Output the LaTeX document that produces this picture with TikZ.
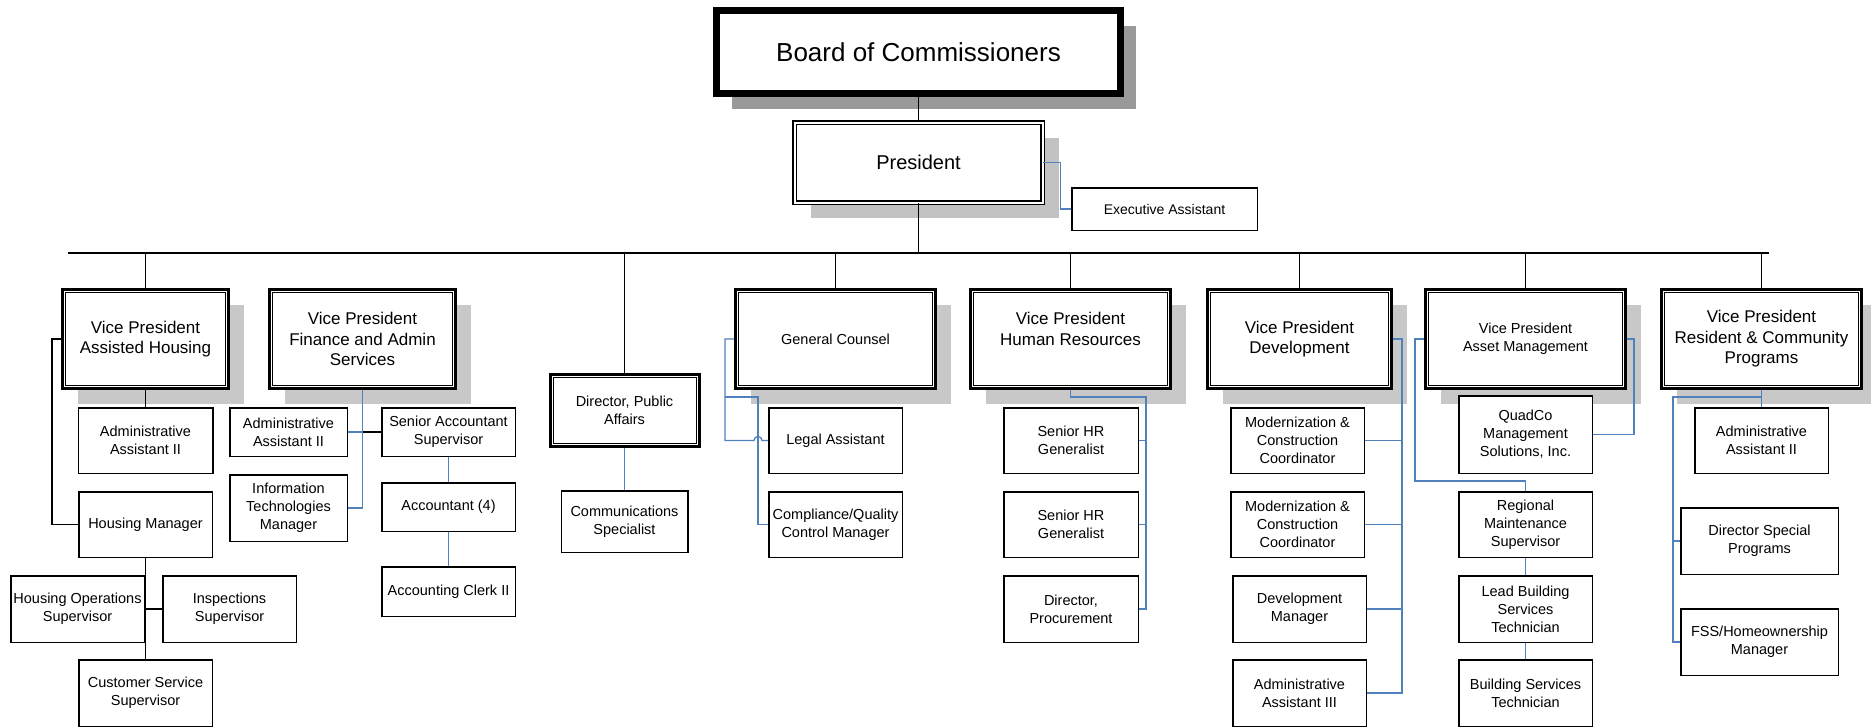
\documentclass[tikz,border=0pt]{standalone}
\usepackage{fontspec}
\setmainfont{Liberation Sans}
\usetikzlibrary{shadows}
\definecolor{olink}{HTML}{4F81BD}
\definecolor{oshade}{HTML}{C8C8C8}
\definecolor{odark}{HTML}{999999}
\begin{document}
\begin{tikzpicture}[x=1pt, y=-1pt, every node/.style={align=center,inner sep=1pt}, sz/.style 2 args={minimum width=#1pt,minimum height=#2pt}, box/.style={draw,fill=white,line width=1.5pt,font=\fontsize{14.5}{18}\selectfont}, vpbox/.style={draw,fill=white,line width=3pt,font=\fontsize{17}{20.5}\selectfont}, small/.style={font=\fontsize{14.5}{18}\selectfont}, shade/.style={drop shadow={shadow xshift=15pt,shadow yshift=-15pt,fill=oshade,opacity=1}}, conn/.style={line width=1.5pt}, blu/.style={olink,line width=1.3pt}]
\useasboundingbox (0,0) rectangle (1871,728);
\node[draw,fill=white,line width=7pt,sz={404}{83},font=\fontsize{26}{30}\selectfont,drop shadow={shadow xshift=15pt,shadow yshift=-15pt,fill=odark,opacity=1}] (board) at (918.5,52) {Board of Commissioners};
\node[draw,double,line width=1.3pt,double distance=2pt,fill=white,sz={248}{80},font=\fontsize{20}{24}\selectfont,drop shadow={shadow xshift=16pt,shadow yshift=-15pt,fill=black!24,opacity=1}] (pres) at (918.5,162.5) {President};
\node[box,sz={185.5}{42.5},font=\fontsize{14}{17}\selectfont] (exec) at (1164.5,209) {Executive Assistant};
\node[vpbox,shade,sz={166}{99}] (vpah) at (145.5,339) {Vice President\\Assisted Housing};
\node[vpbox,shade,sz={186}{99}] (vpfin) at (362.5,339) {Vice President\\Finance and Admin\\Services};
\node[vpbox,small,sz={149}{72}] (dpa) at (624.5,410.5) {Director, Public\\Affairs};
\node[vpbox,shade,small,sz={200}{99}] (gc) at (835.5,339) {General Counsel};
\node[vpbox,shade,sz={200}{99}] (vphr) at (1070.5,339) {Vice President\\Human Resources\\\mbox{}};
\node[vpbox,shade,sz={184}{99}] (vpdev) at (1299.5,339) {Vice President\\Development};
\node[vpbox,shade,small,sz={200}{99}] (vpam) at (1525.5,339) {Vice President\\Asset Management};
\node[vpbox,shade,sz={200}{99}] (vprc) at (1761.5,339) {Vice President\\Resident \& Community\\Programs};
\foreach \n in {vpah,vpfin,dpa,gc,vphr,vpdev,vpam,vprc}
  \draw[line width=0.8pt] ([shift={(4.5pt,-4.5pt)}]\n.north west) rectangle ([shift={(-4.5pt,4.5pt)}]\n.south east);
\node[box,sz={134.5}{65.5}] (aa1) at (145.5,440.5) {Administrative\\Assistant II};
\node[box,sz={133.5}{65.5}] (hm) at (145.5,524.5) {Housing Manager};
\node[box,sz={133.5}{66.5}] (hos) at (77.5,609) {Housing Operations\\Supervisor};
\node[box,sz={133.5}{66.5}] (insp) at (229.5,609) {Inspections\\Supervisor};
\node[box,sz={133.5}{66.5}] (css) at (145.5,693) {Customer Service\\Supervisor};
\node[box,sz={117.5}{48.5}] (aa2) at (288.5,432) {Administrative\\Assistant II};
\node[box,sz={117.5}{66.5}] (itm) at (288.5,508) {Information\\Technologies\\Manager};
\node[box,sz={133.5}{48.5}] (sas) at (448.5,432) {Senior Accountant\\Supervisor};
\node[box,sz={133.5}{48.5}] (acc) at (448.5,507) {Accountant (4)};
\node[box,sz={133.5}{49.5}] (clerk) at (448.5,591.5) {Accounting Clerk II};
\node[box,sz={126.5}{61.5}] (comm) at (624.5,521.5) {Communications\\Specialist};
\node[box,sz={133.5}{65.5}] (legal) at (835.5,440.5) {Legal Assistant};
\node[box,sz={133.5}{65.5}] (cqcm) at (835.5,524.5) {Compliance/Quality\\Control Manager};
\node[box,sz={134.5}{65.5}] (hr1) at (1071,440.5) {Senior HR\\Generalist};
\node[box,sz={134.5}{65.5}] (hr2) at (1071,524.5) {Senior HR\\Generalist};
\node[box,sz={134.5}{66.5}] (proc) at (1071,609) {Director,\\Procurement};
\node[box,sz={133.5}{65.5}] (mcc1) at (1297.5,440.5) {Modernization \&\\Construction\\Coordinator};
\node[box,sz={133.5}{65.5}] (mcc2) at (1297.5,524.5) {Modernization \&\\Construction\\Coordinator};
\node[box,sz={133.5}{66.5}] (devm) at (1299.5,609) {Development\\Manager};
\node[box,sz={133.5}{66.5}] (aa3) at (1299.5,693) {Administrative\\Assistant III};
\node[box,sz={133.5}{77.5}] (quad) at (1525.5,434.5) {QuadCo\\Management\\Solutions, Inc.};
\node[box,sz={133.5}{65.5}] (rms) at (1525.5,524.5) {Regional\\Maintenance\\Supervisor};
\node[box,sz={133.5}{66.5}] (lbst) at (1525.5,609) {Lead Building\\Services\\Technician};
\node[box,sz={133.5}{66.5}] (bst) at (1525.5,693) {Building Services\\Technician};
\node[box,sz={133.5}{65.5}] (aa4) at (1761.5,440.5) {Administrative\\Assistant II};
\node[box,sz={157.5}{66.5}] (dsp) at (1759.5,541) {Director Special\\Programs};
\node[box,sz={157.5}{66.5}] (fss) at (1759.5,642) {FSS/Homeownership\\Manager};
\coordinate (busl) at (68,253); \coordinate (busr) at (1769,253);
\coordinate (hrx) at (1146,0); \coordinate (devx) at (1402,0); \coordinate (rcx) at (1673,0);
\draw[conn] (board.south) -- (pres.north); \draw[conn] (pres.south) -- (pres.south |- busl); \draw[conn] (busl) -- (busr);
\foreach \n in {vpah,dpa,gc,vphr,vpdev,vpam,vprc} \draw[conn] (\n.north |- busl) -- (\n.north);
\draw[blu] (pres.east) -- ++(17,0) |- (exec.west);
\draw[conn] (vpah.south) -- (aa1.north); \draw[conn] (vpah.west) -- ++(-9,0) |- (hm.west);
\draw[conn] (hm.south) -- (css.north); \draw[conn] (hos.east) -- (insp.west);
\draw[blu] (vpfin.south) |- (itm.east);
\coordinate (finx) at (vpfin.south |- aa2.east);
\draw[blu] (aa2.east) -- (finx); \draw[conn] (finx) -- (sas.west);
\draw[blu] (sas.south) -- (acc.north); \draw[blu] (acc.south) -- (clerk.north);
\draw[blu] (dpa.south) -- (comm.north);
\draw[blu] (gc.west) -- ++(-9,0) coordinate (gcl) |- ([xshift=-14pt]legal.west) arc[start angle=180,end angle=360,radius=4] -- (legal.west);
\draw[blu] ([yshift=-58pt]gcl) -| ([xshift=-10pt]cqcm.west) -- (cqcm.west);
\draw[blu] (vphr.south) -- ++(0,7) -| (proc.east -| hrx) -- (proc.east);
\foreach \n in {hr1,hr2} \draw[blu] (\n.east) -- (\n.east -| hrx);
\draw[blu] (vpdev.east) -| (aa3.east -| devx) -- (aa3.east);
\foreach \n in {mcc1,mcc2,devm} \draw[blu] (\n.east) -- (\n.east -| devx);
\draw[blu] (vpam.east) -- ++(7,0) |- (quad.east);
\draw[blu] (vpam.west) -- ++(-9,0) |- ([yshift=10pt]rms.north) -- (rms.north);
\draw[blu] (rms.south) -- (lbst.north); \draw[blu] (lbst.south) -- (bst.north);
\draw[blu] (vprc.south) -- (aa4.north);
\draw[blu] ([yshift=-7pt]vprc.south) -| (fss.west -| rcx) -- (fss.west);
\draw[blu] (dsp.west) -- (dsp.west -| rcx);
\end{tikzpicture}
\end{document}
